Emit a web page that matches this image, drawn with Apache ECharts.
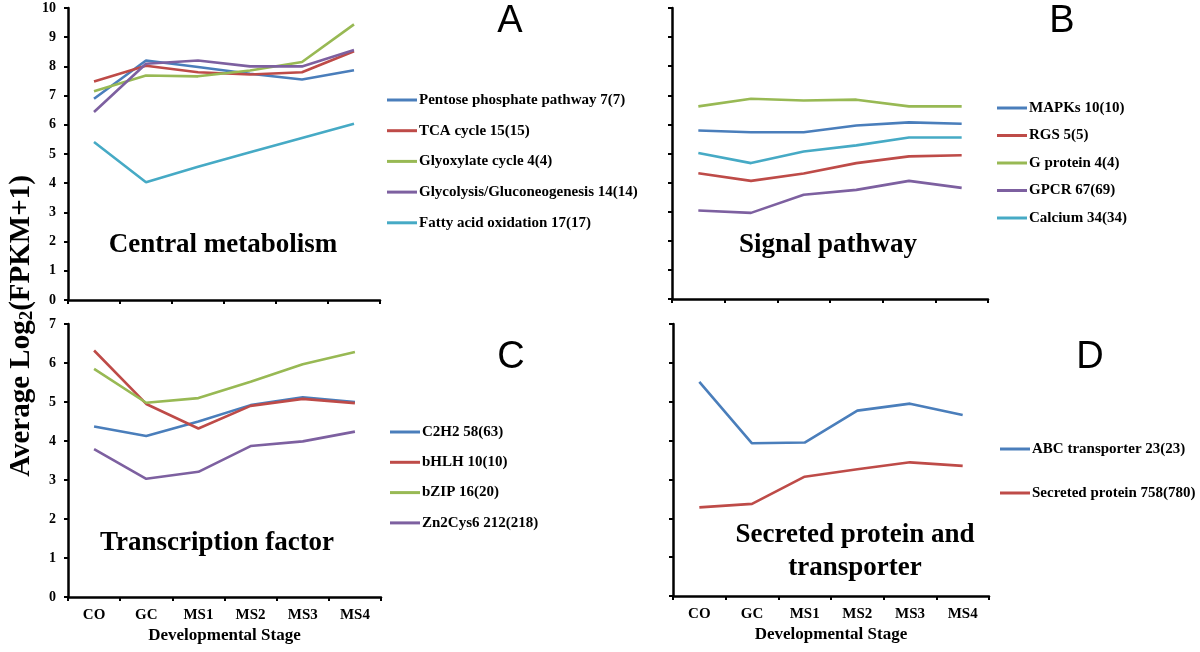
<!DOCTYPE html>
<html><head><meta charset="utf-8">
<script src="https://cdn.jsdelivr.net/npm/echarts@6/dist/echarts.min.js"></script>
<style>html,body{margin:0;padding:0;background:#fff}#c{width:1200px;height:652px}</style>
</head><body><div id="c"></div>
<script>
const stages = ['CO', 'GC', 'MS1', 'MS2', 'MS3', 'MS4'];

// Panel A: Central metabolism
const namesA = ['Pentose phosphate pathway 7(7)', 'TCA cycle 15(15)', 'Glyoxylate cycle 4(4)', 'Glycolysis/Gluconeogenesis 14(14)', 'Fatty acid oxidation 17(17)'];
const pentose = [6.89, 8.20, 7.98, 7.75, 7.55, 7.87];
const tca = [7.48, 8.02, 7.80, 7.72, 7.80, 8.52];
const glyoxylate = [7.15, 7.69, 7.66, 7.86, 8.15, 9.44];
const glycolysis = [6.44, 8.09, 8.20, 8.00, 8.00, 8.56];
const fattyAcid = [5.41, 4.03, 4.56, 5.06, 5.55, 6.04];

// Panel B: Signal pathway
const namesB = ['MAPKs 10(10)', 'RGS 5(5)', 'G protein 4(4)', 'GPCR 67(69)', 'Calcium 34(34)'];
const mapks = [5.79, 5.73, 5.73, 5.96, 6.07, 6.02];
const rgs = [4.32, 4.06, 4.31, 4.67, 4.90, 4.94];
const gProtein = [6.62, 6.88, 6.82, 6.85, 6.62, 6.62];
const gpcr = [3.04, 2.96, 3.58, 3.75, 4.06, 3.82];
const calcium = [5.02, 4.67, 5.07, 5.28, 5.55, 5.55];

// Panel C: Transcription factor
const namesC = ['C2H2 58(63)', 'bHLH 10(10)', 'bZIP 16(20)', 'Zn2Cys6 212(218)'];
const c2h2 = [4.37, 4.13, 4.50, 4.92, 5.12, 5.00];
const bhlh = [6.32, 4.95, 4.32, 4.90, 5.08, 4.97];
const bzip = [5.85, 4.98, 5.10, 5.52, 5.97, 6.28];
const zn2cys6 = [3.79, 3.03, 3.21, 3.87, 3.99, 4.24];

// Panel D: Secreted protein and transporter
const namesD = ['ABC transporter 23(23)', 'Secreted protein 758(780)'];
const abc = [5.51, 3.93, 3.95, 4.77, 4.95, 4.66];
const secreted = [2.28, 2.37, 3.07, 3.26, 3.44, 3.35];

const yTicksA = [0, 10];
const yTicksC = [0, 7];
const xTitle = 'Developmental Stage';
const yTitle = 'Average Log{s|2}(FPKM+1)';

const colors = ['#4A7EBB', '#BE4B48', '#98B954', '#7D60A0', '#46AAC5'];
const serif = 'Liberation Serif';

const grids = [
  {left: 68, top: 8, width: 312, height: 292},
  {left: 672, top: 8, width: 316, height: 291},
  {left: 68, top: 324, width: 313, height: 273},
  {left: 673, top: 324, width: 316, height: 272}
];

function xAxis(i, showLabels) {
  return {
    type: 'category', gridIndex: i, data: stages, boundaryGap: true,
    axisLine: {lineStyle: {color: '#000', width: 2.5}},
    axisTick: {show: true, length: 4, lineStyle: {color: '#000', width: 2}},
    axisLabel: {show: showLabels, color: '#000', fontFamily: serif, fontWeight: 'bold', fontSize: 15, margin: 11},
    name: showLabels ? xTitle : '', nameLocation: 'middle', nameGap: 30,
    nameTextStyle: {color: '#000', fontFamily: serif, fontWeight: 'bold', fontSize: 17},
    splitLine: {show: false}
  };
}
function yAxis(i, range, showLabels) {
  return {
    type: 'value', gridIndex: i, min: range[0], max: range[1], interval: 1,
    axisLine: {show: true, lineStyle: {color: '#000', width: 2.5}},
    axisTick: {show: true, length: 4, lineStyle: {color: '#000', width: 2}},
    axisLabel: {show: showLabels, color: '#000', fontFamily: serif, fontWeight: 'bold', fontSize: 14, margin: 12},
    splitLine: {show: false}
  };
}
function line(name, data, gi, ci) {
  return {
    type: 'line', name: name, data: data, xAxisIndex: gi, yAxisIndex: gi,
    symbol: 'none', smooth: false, silent: true,
    lineStyle: {color: colors[ci], width: 2.6},
    itemStyle: {color: colors[ci]}
  };
}
function legend(names, left, top, gap) {
  return {
    data: names, orient: 'vertical', left: left, top: top, itemGap: gap,
    icon: 'rect', itemWidth: 30, itemHeight: 3, padding: 0,
    textStyle: {color: '#000', fontFamily: serif, fontWeight: 'bold', fontSize: 15, lineHeight: 16, padding: [0, 0, 0, -3]},
    selectedMode: false
  };
}
function label(text, x, y, size, family, weight) {
  return {
    type: 'text', x: x, y: y,
    style: {text: text, fill: '#000', font: (weight || 'normal') + ' ' + size + 'px "' + family + '"', align: 'center', verticalAlign: 'middle'}
  };
}

const series = [];
[pentose, tca, glyoxylate, glycolysis, fattyAcid].forEach((d, k) => series.push(line(namesA[k], d, 0, k)));
[mapks, rgs, gProtein, gpcr, calcium].forEach((d, k) => series.push(line(namesB[k], d, 1, k)));
[c2h2, bhlh, bzip, zn2cys6].forEach((d, k) => series.push(line(namesC[k], d, 2, k)));
[abc, secreted].forEach((d, k) => series.push(line(namesD[k], d, 3, k)));

const chart = echarts.init(document.getElementById('c'), null, {renderer: 'canvas'});
chart.setOption({
  animation: false,
  backgroundColor: '#fff',
  grid: grids,
  xAxis: [xAxis(0, false), xAxis(1, false), xAxis(2, true), xAxis(3, true)],
  yAxis: [yAxis(0, yTicksA, true), yAxis(1, yTicksA, false), yAxis(2, yTicksC, true), yAxis(3, yTicksC, false)],
  legend: [
    legend(namesA, 387, 92, 14.7),
    legend(namesB, 997, 100, 11.5),
    legend(namesC, 390, 424, 14.3),
    legend(namesD, 1000, 441, 28)
  ],
  series: series,
  graphic: [
    label('A', 510, 22, 38, 'Liberation Sans'),
    label('B', 1062, 22, 38, 'Liberation Sans'),
    label('C', 511, 358, 38, 'Liberation Sans'),
    label('D', 1090, 358, 38, 'Liberation Sans'),
    label('Central metabolism', 223, 245, 27, serif, 'bold'),
    label('Signal pathway', 828, 245, 27, serif, 'bold'),
    label('Transcription factor', 217, 543, 27, serif, 'bold'),
    label('Secreted protein and', 855, 535, 27, serif, 'bold'),
    label('transporter', 855, 568, 27, serif, 'bold'),
    {
      type: 'text', x: 22, y: 326, rotation: Math.PI / 2,
      style: {
        text: yTitle, fill: '#000', font: 'bold 29px "Liberation Serif"', align: 'center', verticalAlign: 'middle',
        rich: {s: {font: 'bold 19px "Liberation Serif"', fill: '#000', verticalAlign: 'bottom', padding: [10, 0, 0, 0]}}
      }
    }
  ]
});
</script>
</body></html>
